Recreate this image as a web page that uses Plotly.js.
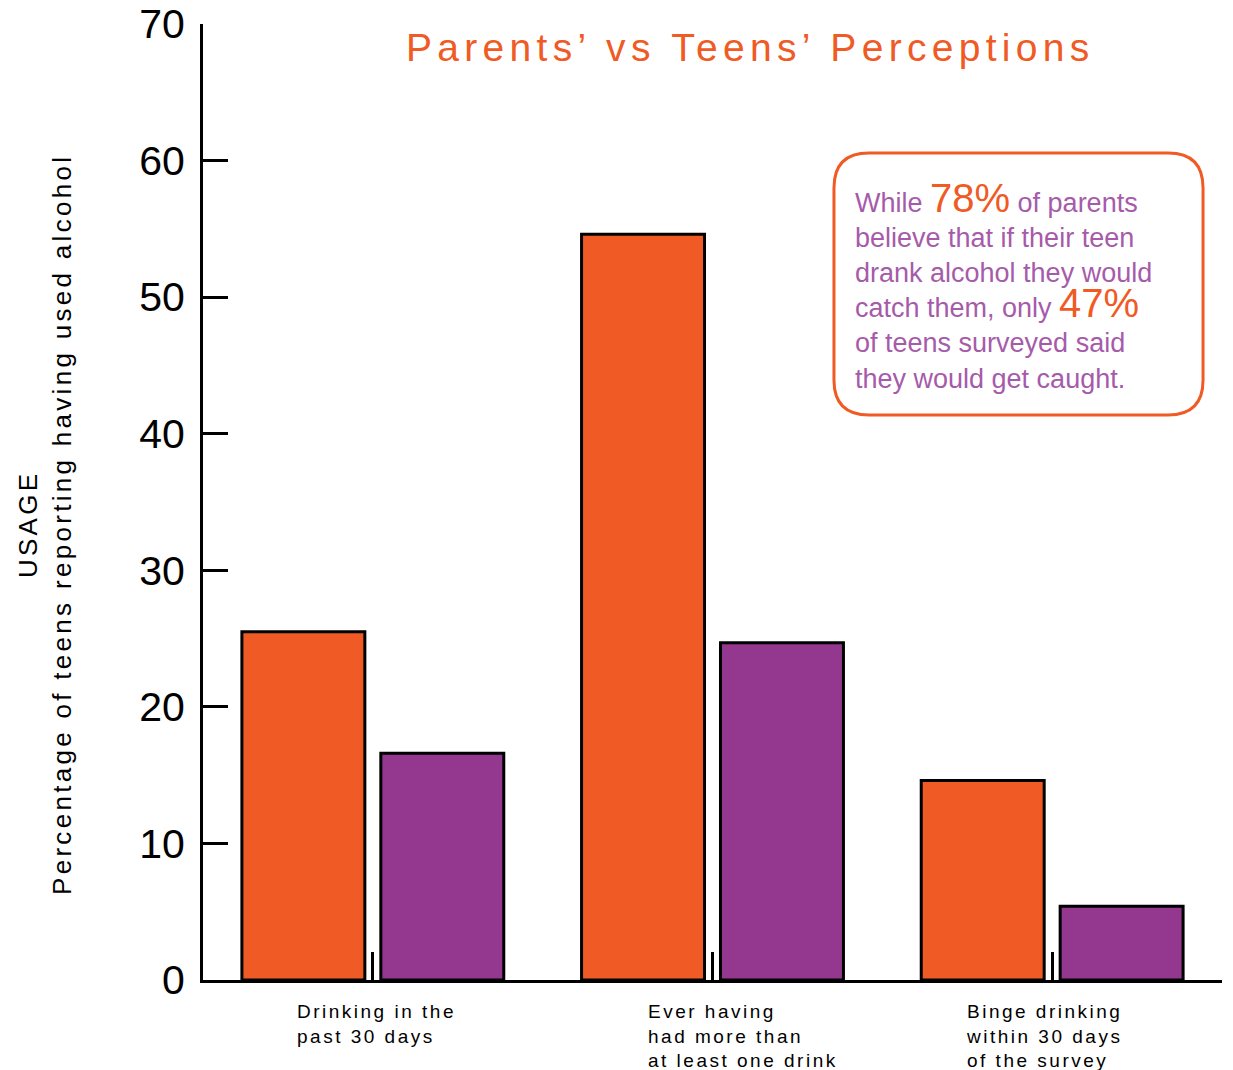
<!DOCTYPE html>
<html>
<head>
<meta charset="utf-8">
<script src="https://cdn.plot.ly/plotly-3.0.1.min.js"></script>
<style>html,body{margin:0;padding:0;background:#fff;}#chart{width:1233px;height:1070px;}</style>
</head>
<body>
<div id="chart"></div>
<script>
// ---- data ----
const categories = ["Drinking in the<br>past 30 days", "Ever having<br>had more than<br>at least one drink", "Binge drinking<br>within 30 days<br>of the survey"];
const seriesA = [25.5, 54.6, 14.6];   // orange bars
const seriesB = [16.6, 24.7, 5.4];    // purple bars
const yTicks = [0, 10, 20, 30, 40, 50, 60, 70];
const titleText = "Parents’ vs Teens’ Perceptions";
const yTitleLines = ["USAGE", "Percentage of teens reporting having used alcohol"];
const boxText = 'While <span style="font-size:40px;color:#F05A24">78%</span> of parents<br>believe that if their teen<br>drank alcohol they would<br>catch them, only <span style="font-size:40px;color:#F05A24">47%</span><br>of teens surveyed said<br>they would get caught.';

// ---- style ----
const ORANGE = "#F05A24";
const PURPLE = "#93378F";
const TEXTPURPLE = "#A65BAA";
const labelShift = [-78, -67, -88];
const FONT = "Liberation Sans, Arial, sans-serif";

const xIdx = categories.map((c, i) => i);

const traces = [
  {type: "bar", x: xIdx, y: seriesA, marker: {color: ORANGE, line: {color: "#000", width: 3}}, hoverinfo: "skip"},
  {type: "bar", x: xIdx, y: seriesB, marker: {color: PURPLE, line: {color: "#000", width: 3}}, hoverinfo: "skip"}
];

// rounded box path in paper coords
const L = 0.6192, R = 0.9814, T = 0.8651, B = 0.5910, rx = 0.0343, ry = 0.0366;
const boxPath = `M ${L+rx},${T} L ${R-rx},${T} Q ${R},${T} ${R},${T-ry} L ${R},${B+ry} Q ${R},${B} ${R-rx},${B} L ${L+rx},${B} Q ${L},${B} ${L},${B+ry} L ${L},${T-ry} Q ${L},${T} ${L+rx},${T} Z`;

const spaced = (s, ls) => s.split("<br>").map(t => `<span style="letter-spacing:${ls}px">${t}</span>`).join("<br>");

const annotations = categories.map((c, i) => ({
  x: i, xref: "x", y: -0.02, yref: "paper",
  xanchor: "left", yanchor: "top", align: "left",
  xshift: labelShift[i],
  showarrow: false,
  text: spaced(c, 2.5),
  font: {family: FONT, size: 19, color: "#000"}
}));

annotations.push({
  xref: "paper", yref: "paper", x: -0.155, y: 0.476,
  xanchor: "center", yanchor: "middle", textangle: -90, showarrow: false,
  text: spaced(yTitleLines.join("<br>"), 3.3),
  font: {family: FONT, size: 26, color: "#000"}
});

annotations.push({
  xref: "paper", yref: "paper", x: 0.6378, y: 0.727,
  xanchor: "left", yanchor: "middle", align: "left", showarrow: false,
  text: boxText,
  font: {family: FONT, size: 27, color: TEXTPURPLE}
});

const layout = {
  width: 1233, height: 1070,
  margin: {l: 203, r: 11, t: 24, b: 90},
  paper_bgcolor: "#fff", plot_bgcolor: "#fff",
  showlegend: false,
  barmode: "group", bargap: 0.182, bargroupgap: 0.115,
  title: {
    text: spaced(titleText, 5.3),
    font: {family: FONT, size: 39, color: ORANGE},
    xref: "container", yref: "container", x: 0.6085, y: 0.956, xanchor: "center", yanchor: "middle"
  },
  xaxis: {
    type: "linear", range: [-0.5, 2.5], tickvals: xIdx, showticklabels: false,
    ticks: "inside", ticklen: 28, tickwidth: 3, tickcolor: "#000",
    showline: true, linecolor: "#000", linewidth: 3, showgrid: false, zeroline: false, fixedrange: true
  },
  yaxis: {
    range: [0, 70], tickvals: yTicks, ticktext: yTicks.map(String),
    ticks: "inside", ticklen: 25, tickwidth: 3, tickcolor: "#000",
    ticklabelstandoff: 7,
    tickfont: {family: FONT, size: 41, color: "#000"},
    showline: true, linecolor: "#000", linewidth: 3, showgrid: false, zeroline: false, fixedrange: true
  },
  shapes: [{type: "path", xref: "paper", yref: "paper", path: boxPath, line: {color: ORANGE, width: 3}, fillcolor: "rgba(0,0,0,0)"}],
  annotations: annotations
};

Plotly.newPlot("chart", traces, layout, {staticPlot: true, displayModeBar: false});
</script>
</body>
</html>
